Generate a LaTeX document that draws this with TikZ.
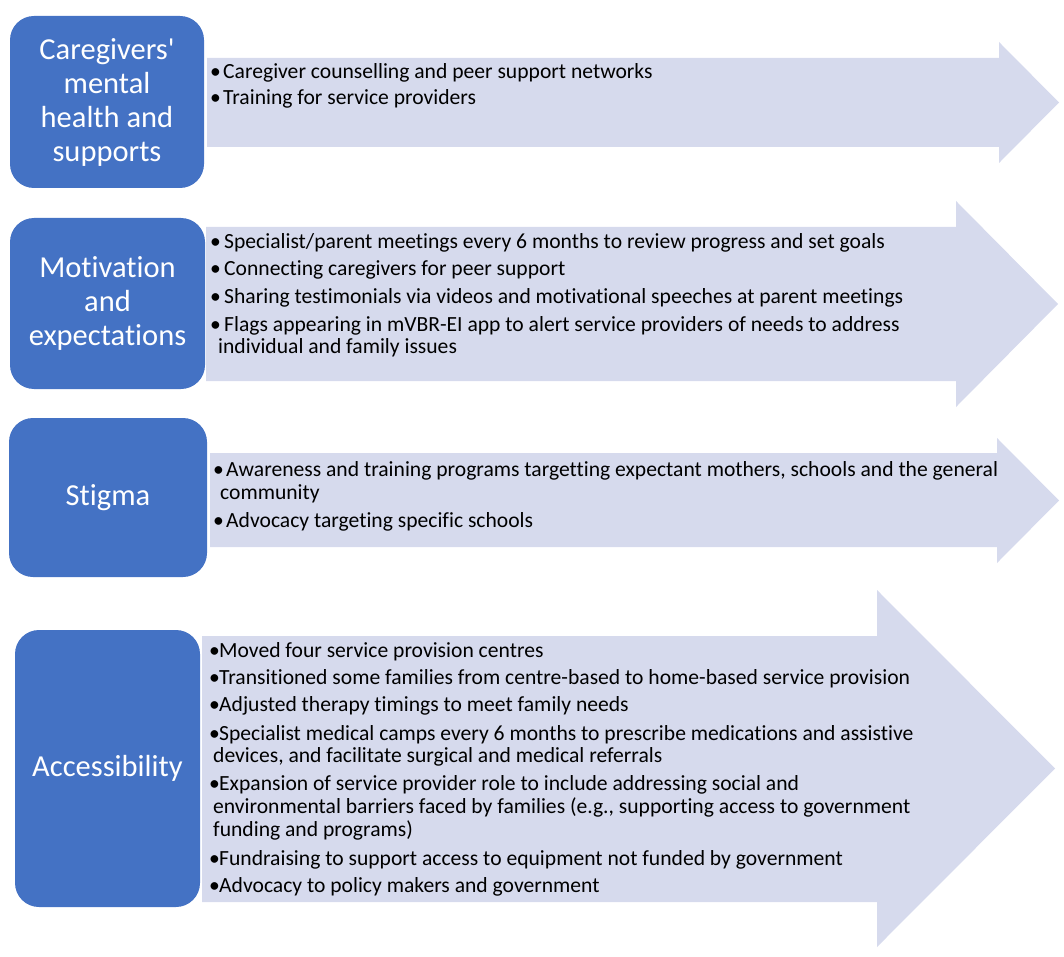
\documentclass[tikz,border=0pt]{standalone}
\usepackage{fontspec}
\newfontfamily\calfont{Carlito}[Ligatures=NoCommon]
\definecolor{boxblue}{RGB}{68,114,196}
\definecolor{arrowfill}{RGB}{214,218,237}
\newcommand\bul[2]{\makebox[#1][l]{•}#2}
\tikzset{
  catbox/.style={fill=boxblue, rounded corners=24pt, text=white, align=center,
    inner sep=0pt, font=\calfont\fontsize{30.5}{34}\selectfont},
  arrowshape/.style={fill=arrowfill, draw=none},
  ln/.style={anchor=base west, inner sep=0pt, font=\calfont\fontsize{21.6}{22}\selectfont, text=black},
}
\begin{document}
\begin{tikzpicture}[x=1pt,y=-1pt]
\useasboundingbox (0,0) rectangle (1064,957);

% arrows
\fill[arrowshape] (207,58) -- (999,58) -- (999,42) -- (1059,102.5) -- (999,163) -- (999,147) -- (207,147) -- cycle;
\fill[arrowshape] (206,227) -- (956,227) -- (956,201) -- (1058,304) -- (956,407) -- (956,381) -- (206,381) -- cycle;
\fill[arrowshape] (210,453) -- (997,453) -- (997,438) -- (1059,500.5) -- (997,563) -- (997,547) -- (210,547) -- cycle;
\fill[arrowshape] (202,636) -- (877,636) -- (877,590) -- (1055,768.5) -- (877,947) -- (877,902) -- (202,902) -- cycle;

% category boxes
\node[catbox, minimum width=194pt, minimum height=172pt] (c1) at (107,102) {Caregivers'\\mental\\health and\\supports};
\node[catbox, minimum width=195pt, minimum height=171pt] (c2) at (107.5,303.5) {Motivation\\and\\expectations};
\node[catbox, minimum width=198pt, minimum height=159pt] (c3) at (108,497.5) {Stigma};
\node[catbox, minimum width=185pt, minimum height=277pt] (c4) at (107.5,768.5) {Accessibility};

% arrow 1 text
\node[ln] (a1) at (210,79) {\bul{13pt}{Caregiver counselling and peer support networks}};
\node[ln] (a2) at (210,105) {\bul{13pt}{Training for service providers}};

% arrow 2 text
\node[ln] (b1) at (210,249) {\bul{14pt}{Specialist/parent meetings every 6 months to review progress and set goals}};
\node[ln] (b2) at (210,276) {\bul{14pt}{Connecting caregivers for peer support}};
\node[ln] (b3) at (210,303) {\bul{14pt}{Sharing testimonials via videos and motivational speeches at parent meetings}};
\node[ln] (b4) at (210,331) {\bul{14pt}{Flags appearing in mVBR-EI app to alert service providers of needs to address}};
\node[ln] (b5) at (218,353) {individual and family issues};

% arrow 3 text
\node[ln] (s1) at (213,476) {\bul{13pt}{Awareness and training programs targetting expectant mothers, schools and the general}};
\node[ln] (s2) at (220,499) {community};
\node[ln] (s3) at (213,527) {\bul{13pt}{Advocacy targeting specific schools}};

% arrow 4 text
\node[ln] (d1) at (209,657) {\bul{10pt}{Moved four service provision centres}};
\node[ln] (d2) at (209,684) {\bul{10pt}{Transitioned some families from centre-based to home-based service provision}};
\node[ln] (d3) at (209,711) {\bul{10pt}{Adjusted therapy timings to meet family needs}};
\node[ln] (d4) at (209,740) {\bul{10pt}{Specialist medical camps every 6 months to prescribe medications and assistive}};
\node[ln] (d5) at (213,762) {devices, and facilitate surgical and medical referrals};
\node[ln] (d6) at (209,790) {\bul{10pt}{Expansion of service provider role to include addressing social and}};
\node[ln] (d7) at (213,813) {environmental barriers faced by families (e.g., supporting access to government};
\node[ln] (d8) at (213,836) {funding and programs)};
\node[ln] (d9) at (209,865) {\bul{10pt}{Fundraising to support access to equipment not funded by government}};
\node[ln] (d10) at (209,892) {\bul{10pt}{Advocacy to policy makers and government}};
\end{tikzpicture}
\end{document}
